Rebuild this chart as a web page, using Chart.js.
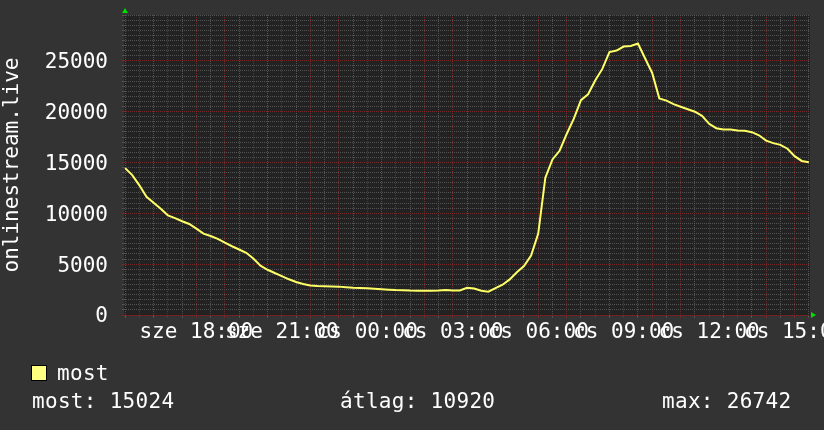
<!DOCTYPE html>
<html>
<head>
<meta charset="utf-8">
<script src="https://cdn.jsdelivr.net/npm/chart.js@4/dist/chart.umd.min.js"></script>
<style>
  html, body { margin: 0; padding: 0; background: #333333; }
  #wrap { position: relative; width: 824px; height: 430px; overflow: hidden; background: #333333; }
  #c { position: absolute; left: 0; top: 0; }
  .txt { position: absolute; font-family: "DejaVu Sans Mono", monospace; font-size: 21px; line-height: 21px; color: #ffffff; white-space: pre; letter-spacing: 0.3px; }
  #swatch { position: absolute; left: 31px; top: 365px; width: 14px; height: 14px; background: #ffff80; border: 1px solid #000; }
</style>
</head>
<body>
<div id="wrap">
  <canvas id="c" width="824" height="430"></canvas>
  <div id="swatch"></div>
  <div class="txt" id="legendLabel" style="left:57px; top:363px;"></div>
  <div class="txt" id="statNow" style="left:32px; top:391px;"></div>
  <div class="txt" id="statAvg" style="left:340px; top:391px;"></div>
  <div class="txt" id="statMax" style="left:662px; top:391px;"></div>
</div>
<script>
// ---- data ----
const seriesLabel = "most";
const axisTitle = "onlinestream.live";
// hours relative to sze 18:00, one value every 15 minutes starting 15:30
const startHour = -2.5;
const stepHours = 0.25;
const viewers = [
  14440,13760,12750,11620,11030,10440,9800,9530,9220,8950,
  8490,8000,7770,7480,7110,6760,6440,6120,5560,4850,
  4450,4130,3830,3510,3240,3050,2900,2850,2820,2800,
  2790,2740,2690,2660,2620,2580,2530,2490,2450,2430,
  2400,2390,2390,2390,2400,2450,2410,2420,2680,2600,
  2380,2290,2640,2980,3500,4200,4820,5850,8000,13500,
  15300,16150,17800,19300,21130,21700,23050,24200,25850,26000,
  26400,26450,26700,25250,23800,21300,21080,20740,20480,20230,
  19990,19580,18800,18370,18240,18240,18150,18110,17980,17670,
  17150,16900,16730,16350,15620,15150,15024
];
const xTickHours = [0, 3, 6, 9, 12, 15, 18, 21];
const xTickLabels = ["sze 18:00","sze 21:00","cs 00:00","cs 03:00","cs 06:00","cs 09:00","cs 12:00","cs 15:00"];
const yTickValues = [0, 5000, 10000, 15000, 20000, 25000];
const statNow = 15024, statAvg = 10920, statMax = 26742;

const xMin = -2.54, xMax = 21.54;
const yMin = 0, yMax = 29500;

document.getElementById('legendLabel').textContent = seriesLabel;
document.getElementById('statNow').textContent = "most: " + statNow;
document.getElementById('statAvg').textContent = "átlag: " + statAvg;
document.getElementById('statMax').textContent = "max: " + statMax;

const points = viewers.map((v, i) => ({ x: startHour + i * stepHours, y: v }));

const MAJOR = 'rgba(130,40,40,0.9)';
const MINOR = 'rgba(88,88,88,0.9)';
const FONT = { family: "DejaVu Sans Mono", size: 21 };

const decorPlugin = {
  id: 'decor',
  beforeDraw(chart) {
    const { ctx, chartArea: a } = chart;
    ctx.save();
    ctx.fillStyle = '#222222';
    ctx.fillRect(a.left, a.top, a.right - a.left, a.bottom - a.top);
    ctx.restore();
  },
  afterDraw(chart) {
    const { ctx, chartArea: a } = chart;
    ctx.save();
    ctx.fillStyle = '#00e000';
    ctx.beginPath();
    ctx.moveTo(a.left + 1, a.top - 7);
    ctx.lineTo(a.left - 2, a.top - 2);
    ctx.lineTo(a.left + 4, a.top - 2);
    ctx.closePath();
    ctx.fill();
    ctx.beginPath();
    ctx.moveTo(a.right + 6, a.bottom);
    ctx.lineTo(a.right + 1, a.bottom - 3);
    ctx.lineTo(a.right + 1, a.bottom + 3);
    ctx.closePath();
    ctx.fill();
    ctx.restore();
  }
};

new Chart(document.getElementById('c'), {
  type: 'line',
  data: {
    datasets: [{
      label: seriesLabel,
      data: points,
      borderColor: '#ffff66',
      borderWidth: 2,
      pointRadius: 0,
      tension: 0,
      fill: false
    }]
  },
  options: {
    responsive: false,
    animation: false,
    devicePixelRatio: 1,
    layout: { padding: { left: 0, right: 14, top: 15, bottom: 0 } },
    plugins: { legend: { display: false }, tooltip: { enabled: false } },
    scales: {
      x: {
        type: 'linear',
        min: xMin, max: xMax,
        afterBuildTicks(scale) {
          const t = [];
          for (let h = -2.5; h <= 21.5 + 1e-9; h += 0.5) t.push({ value: h });
          scale.ticks = t;
        },
        afterFit(scale) { scale.height = 115; scale.paddingLeft = 0; scale.paddingRight = 0; },
        ticks: {
          autoSkip: false, maxRotation: 0, minRotation: 0, padding: 2,
          color: '#ffffff', font: FONT,
          callback(v) {
            const k = xTickHours.findIndex(h => Math.abs(h - v) < 1e-6);
            return k >= 0 ? xTickLabels[k] : '';
          }
        },
        grid: {
          color: c => (Math.abs(c.tick.value - Math.round(c.tick.value)) < 1e-6 ? MAJOR : MINOR),
          lineWidth: 1, drawTicks: true, tickLength: 3
        },
        border: { display: false, dash: [1, 1] }
      },
      y: {
        min: yMin, max: yMax,
        afterBuildTicks(scale) {
          const t = [];
          for (let v = 0; v <= yMax; v += 500) t.push({ value: v });
          scale.ticks = t;
        },
        afterFit(scale) { scale.width = 124; scale.paddingTop = 0; scale.paddingBottom = 0; },
        ticks: {
          autoSkip: false, padding: 14, labelOffset: 2, color: '#ffffff', font: FONT,
          callback(v) { return yTickValues.includes(v) ? String(v) : ''; }
        },
        title: { display: true, text: axisTitle, color: '#ffffff', font: FONT, padding: 0 },
        grid: {
          color: c => (c.tick.value % 5000 === 0 ? MAJOR : MINOR),
          lineWidth: 1, drawTicks: true, tickLength: 2
        },
        border: { display: false, dash: [1, 1] }
      }
    }
  },
  plugins: [decorPlugin]
});
</script>
</body>
</html>
